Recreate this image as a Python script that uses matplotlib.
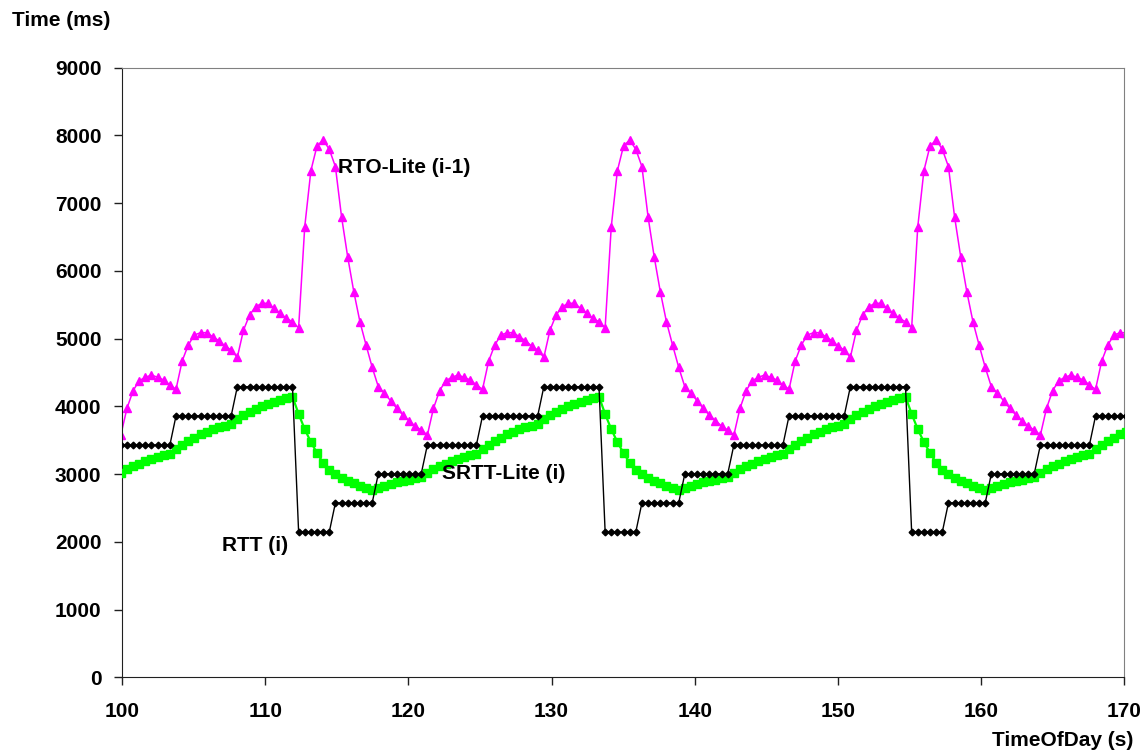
import numpy as np
import matplotlib
matplotlib.use("Agg")
import matplotlib.pyplot as plt

# one 50-sample cycle (the trace repeats every cycle)
rtt_cycle = [3430, 3430, 3430, 3430, 3430, 3430, 3430, 3430, 3430,
             3860, 3860, 3860, 3860, 3860, 3860, 3860, 3860, 3860, 3860,
             4290, 4290, 4290, 4290, 4290, 4290, 4290, 4290, 4290, 4290,
             2145, 2145, 2145, 2145, 2145, 2145,
             2575, 2575, 2575, 2575, 2575, 2575, 2575,
             3005, 3005, 3005, 3005, 3005, 3005, 3005, 3005]
srtt_cycle = [3020, 3070, 3115, 3155, 3190, 3222, 3250, 3276, 3300,
              3372, 3435, 3490, 3540, 3585, 3625, 3660, 3690, 3715, 3738,
              3807, 3867, 3920, 3966, 4006, 4041, 4072, 4099, 4123, 4144,
              3887, 3663, 3473, 3311, 3168, 3061,
              3001, 2948, 2902, 2862, 2826, 2795, 2767,
              2800, 2828, 2855, 2878, 2900, 2920, 2940, 2960]
rto_cycle = [3577, 3972, 4232, 4380, 4429, 4463, 4429, 4390, 4316,
             4252, 4670, 4906, 5054, 5088, 5088, 5029, 4970, 4892, 4832,
             4724, 5124, 5349, 5472, 5522, 5522, 5449, 5374, 5300, 5250,
             5160, 6653, 7480, 7845, 7933, 7796,
             7540, 6800, 6210, 5693, 5250, 4906, 4577,
             4290, 4193, 4084, 3972, 3873, 3789, 3710, 3651]

FIRST_SAMPLE = 99.47   # s, last sample of the cycle before the plot starts
SAMPLE_STEP = 0.4284   # s between samples
N_SAMPLES = 167
START_IDX = 49

x_ticks = [100, 110, 120, 130, 140, 150, 160, 170]
y_ticks = [0, 1000, 2000, 3000, 4000, 5000, 6000, 7000, 8000, 9000]


def unroll(cycle):
    vals = np.array(cycle * 5, dtype=float)
    return vals[START_IDX:START_IDX + N_SAMPLES]


t = FIRST_SAMPLE + SAMPLE_STEP * np.arange(N_SAMPLES)
rtt = unroll(rtt_cycle)
srtt = unroll(srtt_cycle)
rto = unroll(rto_cycle)

plt.rcParams['font.family'] = ['Liberation Sans', 'DejaVu Sans']
plt.rcParams['font.weight'] = 'bold'

fig = plt.figure(figsize=(11.44, 7.54), dpi=100)
ax = fig.add_axes([0.1069, 0.1017, 0.8756, 0.8085])

ax.plot(t, rto, color='#FF00FF', lw=1.1, marker='^', ms=5.5,
        mec='#FF00FF', mfc='#FF00FF', zorder=2)
ax.plot(t, srtt, color='#00FF00', lw=1.6, marker='s', ms=5.8,
        mec='#00FF00', mfc='#00FF00', zorder=3)
ax.plot(t, rtt, color='black', lw=1.0, marker='D', ms=3.4,
        mec='black', mfc='black', zorder=4)

ax.set_xlim(100, 170)
ax.set_ylim(0, 9000)
ax.set_xticks(x_ticks)
ax.set_yticks(y_ticks)

for s in ['left', 'bottom']:
    ax.spines[s].set_color('#202020')
for s in ['top', 'right']:
    ax.spines[s].set_color('#808080')
ax.tick_params(axis='both', direction='out', length=6, width=1,
               labelsize=15, colors='#202020')
ax.tick_params(axis='y', pad=9)
ax.tick_params(axis='x', pad=12)
for lab in ax.get_xticklabels() + ax.get_yticklabels():
    lab.set_fontweight('bold')
    lab.set_color('black')

ax.text(115.05, 7520, 'RTO-Lite (i-1)', fontsize=15, fontweight='bold',
        va='center', ha='left')
ax.text(122.35, 3010, 'SRTT-Lite (i)', fontsize=15, fontweight='bold',
        va='center', ha='left')
ax.text(107.0, 1950, 'RTT (i)', fontsize=15, fontweight='bold',
        va='center', ha='left')

fig.text(12 / 1144, 1 - 20 / 754, 'Time (ms)', fontsize=15,
         fontweight='bold', va='center', ha='left')
fig.text(1133 / 1144, 1 - 740 / 754, 'TimeOfDay (s)', fontsize=15,
         fontweight='bold', va='center', ha='right')

fig.savefig('out.png', dpi=100)
